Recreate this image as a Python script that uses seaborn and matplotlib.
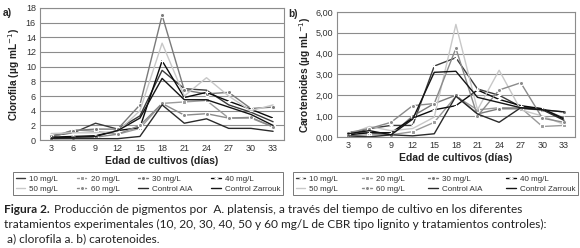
import numpy as np
import pandas as pd
import seaborn as sns
import matplotlib.pyplot as plt

sns.set_style("white")
plt.rcParams["font.family"] = ["Liberation Sans", "DejaVu Sans"]

dias = [3, 6, 9, 12, 15, 18, 21, 24, 27, 30, 33]
series = ["10 mg/L", "20 mg/L", "30 mg/L", "40 mg/L",
          "50 mg/L", "60 mg/L", "Control AIA", "Control Zarrouk"]

# clorofila a (ug/mL)
clo_10 = [0.6, 1.0, 2.3, 1.5, 3.3, 9.5, 7.0, 6.8, 4.8, 3.8, 2.5]
clo_20 = [0.3, 1.4, 1.2, 0.8, 1.6, 5.0, 5.2, 5.4, 3.0, 3.0, 1.8]
clo_30 = [0.5, 1.3, 1.5, 1.5, 4.8, 17.0, 6.8, 6.3, 6.5, 4.3, 4.5]
clo_40 = [0.4, 0.5, 0.6, 1.3, 1.7, 10.8, 5.8, 6.5, 5.3, 4.2, 3.0]
clo_50 = [0.9, 1.0, 1.0, 1.2, 4.0, 13.2, 6.0, 8.5, 6.0, 4.0, 4.8]
clo_60 = [0.2, 0.3, 0.4, 0.8, 2.0, 5.0, 3.4, 3.6, 3.0, 3.1, 1.8]
clo_aia = [0.2, 0.2, 0.2, 0.2, 0.5, 4.8, 2.3, 2.9, 1.6, 1.6, 1.2]
clo_zar = [0.3, 0.4, 0.5, 1.3, 3.0, 8.4, 5.5, 5.5, 4.5, 3.5, 2.0]

# carotenoides (ug/mL)
car_10 = [0.1, 0.4, 0.55, 0.55, 3.4, 3.8, 2.3, 2.0, 1.45, 1.35, 0.9]
car_20 = [0.05, 0.1, 0.1, 0.25, 0.7, 1.95, 1.3, 1.4, 1.4, 0.5, 0.55]
car_30 = [0.25, 0.2, 0.1, 1.0, 1.6, 2.0, 1.1, 1.35, 1.35, 1.3, 1.2]
car_40 = [0.1, 0.2, 0.2, 0.9, 1.3, 1.5, 2.25, 1.8, 1.5, 1.35, 0.85]
car_50 = [0.1, 0.5, 0.3, 0.4, 0.95, 5.4, 1.3, 3.2, 1.3, 1.0, 0.6]
car_60 = [0.2, 0.4, 0.7, 1.5, 1.6, 4.25, 1.0, 2.25, 2.6, 0.9, 0.7]
car_aia = [0.05, 0.0, 0.1, 0.05, 0.15, 1.95, 1.1, 0.7, 1.4, 1.3, 0.8]
car_zar = [0.15, 0.3, 0.1, 0.85, 3.1, 3.15, 1.9, 1.65, 1.4, 1.3, 1.2]

clorofila = [clo_10, clo_20, clo_30, clo_40, clo_50, clo_60, clo_aia, clo_zar]
carotenoides = [car_10, car_20, car_30, car_40, car_50, car_60, car_aia, car_zar]

colores = {"10 mg/L": "#3a3a3a", "20 mg/L": "#9a9a9a", "30 mg/L": "#7a7a7a",
           "40 mg/L": "#0a0a0a", "50 mg/L": "#c8c8c8", "60 mg/L": "#8a8a8a",
           "Control AIA": "#2a2a2a", "Control Zarrouk": "#151515"}
marcas_a = {"10 mg/L": "", "20 mg/L": "s", "30 mg/L": "o", "40 mg/L": "+",
            "50 mg/L": "", "60 mg/L": "o", "Control AIA": "", "Control Zarrouk": ""}
marcas_b = {"10 mg/L": "+", "20 mg/L": "s", "30 mg/L": "o", "40 mg/L": "+",
            "50 mg/L": "", "60 mg/L": "o", "Control AIA": "", "Control Zarrouk": ""}


def long_df(valores):
    rows = []
    for name, vals in zip(series, valores):
        for d, v in zip(dias, vals):
            rows.append({"dia": d, "valor": v, "Tratamiento": name})
    return pd.DataFrame(rows)


def panel(ax, df, marcas, ymax, ystep, fmt, ylabel, legend_box, lpad):
    for name in series:
        sub = df[df["Tratamiento"] == name]
        sns.lineplot(data=sub, x="dia", y="valor", ax=ax, color=colores[name],
                     marker=marcas[name] if marcas[name] else None,
                     markersize=3, markeredgewidth=0.8, linewidth=1.0,
                     label=name, legend=False)
    ax.set_xlim(1.5, 34.5)
    ax.set_ylim(0, ymax)
    ax.set_xticks(dias)
    ax.set_xticks(np.arange(1.5, 35, 3), minor=True)
    yt = np.arange(0, ymax + ystep / 2, ystep)
    ax.set_yticks(yt)
    ax.set_yticklabels([fmt(v) for v in yt])
    ax.yaxis.grid(True, color="#8c8c8c", linewidth=0.8)
    ax.set_axisbelow(True)
    for s in ax.spines.values():
        s.set_color("#8c8c8c")
        s.set_linewidth(0.8)
    ax.tick_params(axis="both", which="major", labelsize=6.5, length=0, pad=3,
                   colors="#333333")
    ax.tick_params(axis="x", which="minor", length=3, color="#8c8c8c", direction="out")
    ax.tick_params(axis="x", which="major", bottom=False)
    ax.set_xlabel("Edad de cultivos (días)", fontsize=7.5, fontweight="bold",
                  labelpad=2, color="#222222")
    ax.set_ylabel(ylabel, fontsize=7.3, fontweight="bold", labelpad=lpad, color="#222222")

    handles, labels = ax.get_legend_handles_labels()
    order = [0, 4, 1, 5, 2, 6, 3, 7]
    leg = ax.figure.legend([handles[i] for i in order], [labels[i] for i in order],
                           ncol=4, loc="lower left", bbox_to_anchor=legend_box,
                           mode="expand", fontsize=5.8, frameon=True, fancybox=False,
                           edgecolor="#555555", handlelength=1.2, handletextpad=0.5,
                           borderpad=0.35, labelspacing=0.3, columnspacing=1.0,
                           borderaxespad=0)
    leg.get_frame().set_linewidth(0.7)
    for t in leg.get_texts():
        t.set_color("#333333")


fig = plt.figure(figsize=(5.8, 2.48), dpi=100)
ax1 = fig.add_axes([0.069, 0.435, 0.421, 0.533])
ax2 = fig.add_axes([0.581, 0.448, 0.410, 0.504])

panel(ax1, long_df(clorofila), marcas_a, 18, 2, lambda v: f"{v:.0f}",
      "Clorofila (µg mL$^{-1}$)", (0.022, 0.212, 0.466, 0.115), 3)
panel(ax2, long_df(carotenoides), marcas_b, 6, 1, lambda v: f"{v:.2f}".replace(".", ","),
      "Carotenoides (µg mL$^{-1}$)", (0.505, 0.212, 0.492, 0.115), 1.5)

fig.text(0.004, 0.935, "a)", fontsize=7.5, fontweight="bold")
fig.text(0.497, 0.93, "b)", fontsize=7.2, fontweight="bold")

cap = dict(fontsize=8.6, family=["Lato", "DejaVu Sans"], color="#222222", va="baseline")
t0 = fig.text(0.007, 0.141, "Figura 2.", fontweight="bold", **cap)
fig.canvas.draw()
bb = t0.get_window_extent(fig.canvas.get_renderer())
x1 = (bb.x1 + 4) / fig.bbox.width
fig.text(x1, 0.141, "Producción de pigmentos por  A. platensis, a través del tiempo de cultivo en los diferentes",
         **cap)
fig.text(0.007, 0.081, "tratamientos experimentales (10, 20, 30, 40, 50 y 60 mg/L de CBR tipo lignito y tratamientos controles):",
         **cap)
fig.text(0.012, 0.024, "a) clorofila a. b) carotenoides.", **cap)

fig.savefig("out.png", dpi=100)
